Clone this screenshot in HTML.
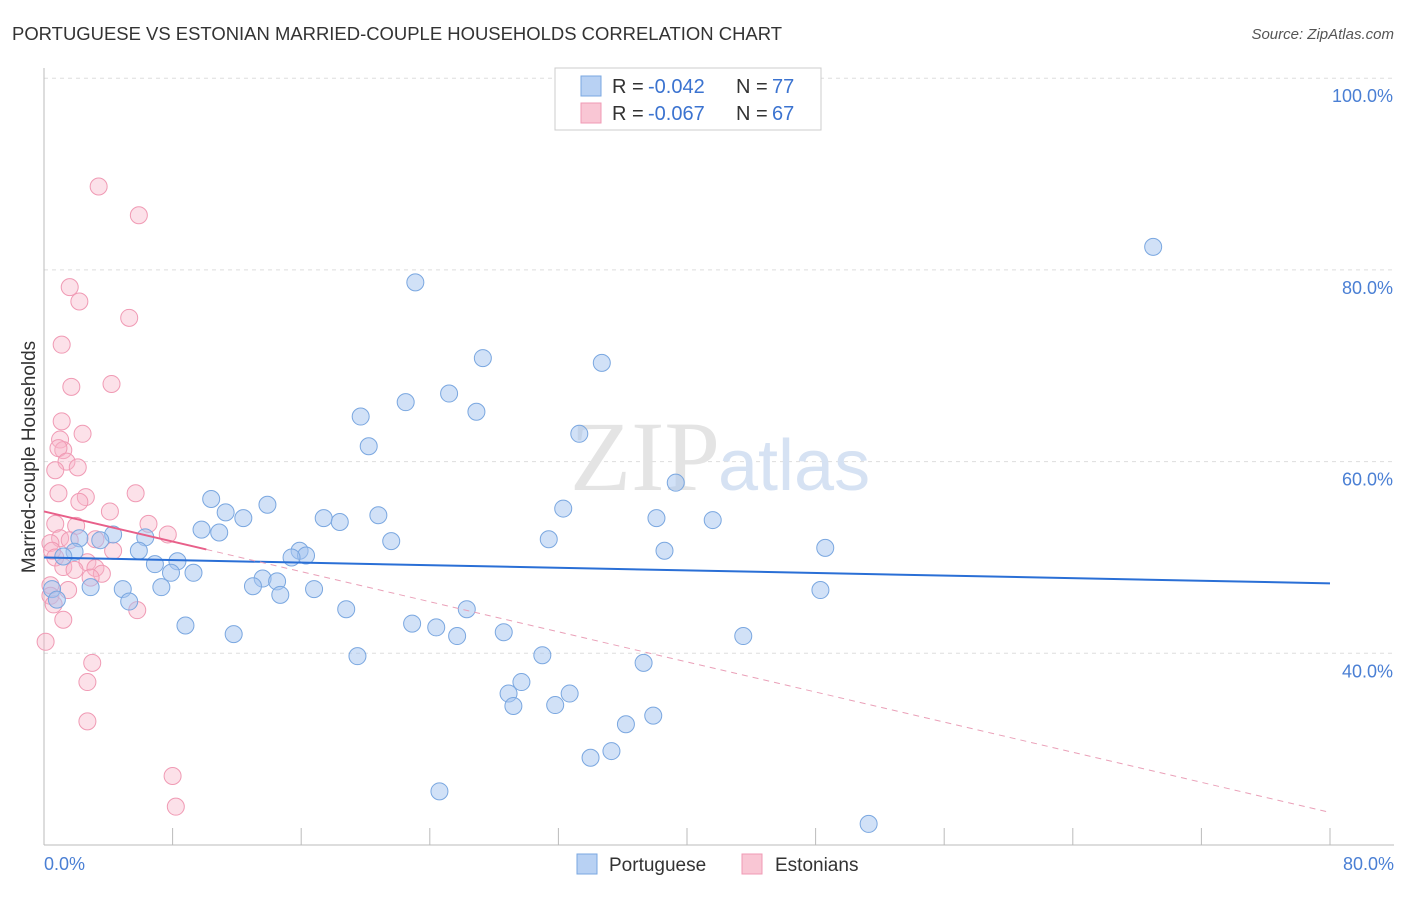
<!DOCTYPE html>
<html><head><meta charset="utf-8"><style>
body{margin:0;background:#fff;font-family:"Liberation Sans",sans-serif}
</style></head><body>
<svg width="1406" height="892" xmlns="http://www.w3.org/2000/svg" font-family="Liberation Sans, sans-serif">
<text x="12" y="40" font-size="18.5" fill="#333" textLength="770" lengthAdjust="spacingAndGlyphs">PORTUGUESE VS ESTONIAN MARRIED-COUPLE HOUSEHOLDS CORRELATION CHART</text>
<text x="1394" y="39" font-size="15" fill="#555" text-anchor="end" font-style="italic">Source: ZipAtlas.com</text>
<g id="grid"></g>
<g id="axes"></g>
<text x="720" y="490" font-size="100" fill="#e4e4e4" text-anchor="end" font-family="Liberation Serif, serif">ZIP</text>
<text x="718" y="490" font-size="72" fill="#d6e2f3">atlas</text>
<g id="marks"></g>
<text x="35" y="457" font-size="19" fill="#333" text-anchor="middle" transform="rotate(-90 35 457)">Married-couple Households</text>
<text x="44" y="870" font-size="18" fill="#4a7fd4">0.0%</text>
<text x="1394" y="870" font-size="18" fill="#4a7fd4" text-anchor="end">80.0%</text>
<g>
<rect x="555" y="68" width="266" height="62" fill="#fff" stroke="#ccc"/>
<rect x="581" y="76" width="20" height="20" fill="#b8d1f3" stroke="#7aa7e0"/>
<rect x="581" y="103" width="20" height="20" fill="#f9c6d4" stroke="#f09ab4"/>
<text x="612" y="93" font-size="20" fill="#333">R =</text>
<text x="648" y="93" font-size="20" fill="#3b73d0">-0.042</text>
<text x="736" y="93" font-size="20" fill="#333">N =</text>
<text x="772" y="93" font-size="20" fill="#3b73d0">77</text>
<text x="612" y="120" font-size="20" fill="#333">R =</text>
<text x="648" y="120" font-size="20" fill="#3b73d0">-0.067</text>
<text x="736" y="120" font-size="20" fill="#333">N =</text>
<text x="772" y="120" font-size="20" fill="#3b73d0">67</text>
</g>
<g>
<rect x="577" y="854" width="20" height="20" fill="#b8d1f3" stroke="#7aa7e0"/>
<text x="609" y="871" font-size="19" fill="#333">Portuguese</text>
<rect x="742" y="854" width="20" height="20" fill="#f9c6d4" stroke="#f09ab4"/>
<text x="775" y="871" font-size="19" fill="#333">Estonians</text>
</g>
</svg>
<script>
const yTicks=[100,80,60,40];
const yTickLabels=["100.0%","80.0%","60.0%","40.0%"];
const xTicks=[0,8,16,24,32,40,48,56,64,72,80];
const blueX=[69.0,23.1,27.3,34.7,25.2,22.5,26.9,19.7,20.2,33.3,39.3,10.4,13.9,11.3,12.4,32.3,38.1,41.6,17.4,18.4,20.8,9.8,10.9,6.3,4.3,3.5,2.2,21.6,31.4,48.6,38.6,5.9,1.9,1.2,15.9,16.3,15.4,8.3,6.9,7.9,9.3,13.6,14.5,13.0,2.9,4.9,7.3,16.8,14.7,0.5,5.3,0.8,48.3,18.8,26.3,8.8,22.9,24.4,11.8,25.7,28.6,43.5,31.0,19.5,37.3,29.7,28.9,32.7,29.2,31.8,37.9,36.2,35.3,34.0,24.6,51.3];
const blueY=[82.4,78.7,70.8,70.3,67.1,66.2,65.2,64.7,61.6,62.9,57.8,56.1,55.5,54.7,54.1,55.1,54.1,53.9,54.1,53.7,54.4,52.9,52.6,52.1,52.4,51.8,52.0,51.7,51.9,51.0,50.7,50.7,50.6,50.1,50.7,50.2,50.0,49.6,49.3,48.4,48.4,47.8,47.5,47.0,46.9,46.7,46.9,46.7,46.1,46.7,45.4,45.6,46.6,44.6,44.6,42.9,43.1,42.7,42.0,41.8,42.2,41.8,39.8,39.7,39.0,37.0,35.8,35.8,34.5,34.6,33.5,32.6,29.8,29.1,25.6,22.2];
const pinkX=[3.4,5.9,1.6,2.2,5.3,1.1,4.2,1.7,1.1,2.4,1.0,1.2,0.9,1.4,0.7,2.1,0.9,2.6,2.2,5.7,4.1,6.5,2.0,0.7,7.7,1.0,1.6,0.4,3.2,4.3,0.5,0.7,2.7,1.2,1.9,3.2,3.6,2.9,0.4,1.5,0.4,0.6,5.8,1.2,0.1,3.0,2.7,2.7,8.0,8.2];
const pinkY=[88.7,85.7,78.2,76.7,75.0,72.2,68.1,67.8,64.2,62.9,62.3,61.2,61.4,60.0,59.1,59.4,56.7,56.3,55.8,56.7,54.8,53.5,53.3,53.5,52.4,52.0,51.8,51.5,51.9,50.7,50.7,50.0,49.5,49.0,48.7,48.9,48.3,47.9,47.1,46.6,46.0,45.1,44.5,43.5,41.2,39.0,37.0,32.9,27.2,24.0];
const blueTrend=[50.0,47.3];
const pinkTrend=[54.8,23.4];
const pinkSolidEnd=10.1;
const X=v=>44+v*16.075, Y=v=>845-(v-20)*9.585;
const NS="http://www.w3.org/2000/svg";
function mk(t,a,p){const e=document.createElementNS(NS,t);for(const k in a)e.setAttribute(k,a[k]);p.appendChild(e);return e;}
const grid=document.getElementById('grid'),axes=document.getElementById('axes'),marks=document.getElementById('marks');
yTicks.forEach((t,i)=>{
 const l=mk('line',{x1:44,x2:1394,y1:Y(t),y2:Y(t),stroke:'#ddd','stroke-dasharray':'4,4'},grid);
 
 
 const tx=mk('text',{x:1393,y:Y(t)+24,'font-size':18,fill:'#4a7fd4','text-anchor':'end'},grid);
 tx.textContent=yTickLabels[i];
 
 
});
let a=mk('line',{x1:44,x2:1394,y1:845,y2:845,stroke:'#bbb'},axes);


a=mk('line',{x1:44,x2:44,y1:68,y2:845,stroke:'#bbb'},axes);


xTicks.forEach(t=>{
 const l=mk('line',{x1:X(t),x2:X(t),y1:828,y2:845,stroke:'#bbb'},axes);
 
 
});
pinkX.forEach((v,i)=>{
 const c=mk('circle',{cx:X(v),cy:Y(pinkY[i]),r:8.5,fill:'rgba(248,180,200,0.4)',stroke:'#f09ab4','stroke-width':1},marks);
 
 
});
blueX.forEach((v,i)=>{
 const c=mk('circle',{cx:X(v),cy:Y(blueY[i]),r:8.5,fill:'rgba(164,196,240,0.5)',stroke:'#7aa7e0','stroke-width':1},marks);
 
 
});
let t=mk('line',{x1:X(0),y1:Y(blueTrend[0]),x2:X(80),y2:Y(blueTrend[1]),stroke:'#2a6fd6','stroke-width':2},marks);


const pe=pinkTrend[0]+(pinkTrend[1]-pinkTrend[0])*pinkSolidEnd/80;
t=mk('line',{x1:X(0),y1:Y(pinkTrend[0]),x2:X(pinkSolidEnd),y2:Y(pe),stroke:'#e8608a','stroke-width':2},marks);


t=mk('line',{x1:X(pinkSolidEnd),y1:Y(pe),x2:X(80),y2:Y(pinkTrend[1]),stroke:'#eaa0b8','stroke-width':1,'stroke-dasharray':'6,5'},marks);


</script>
</body></html>
